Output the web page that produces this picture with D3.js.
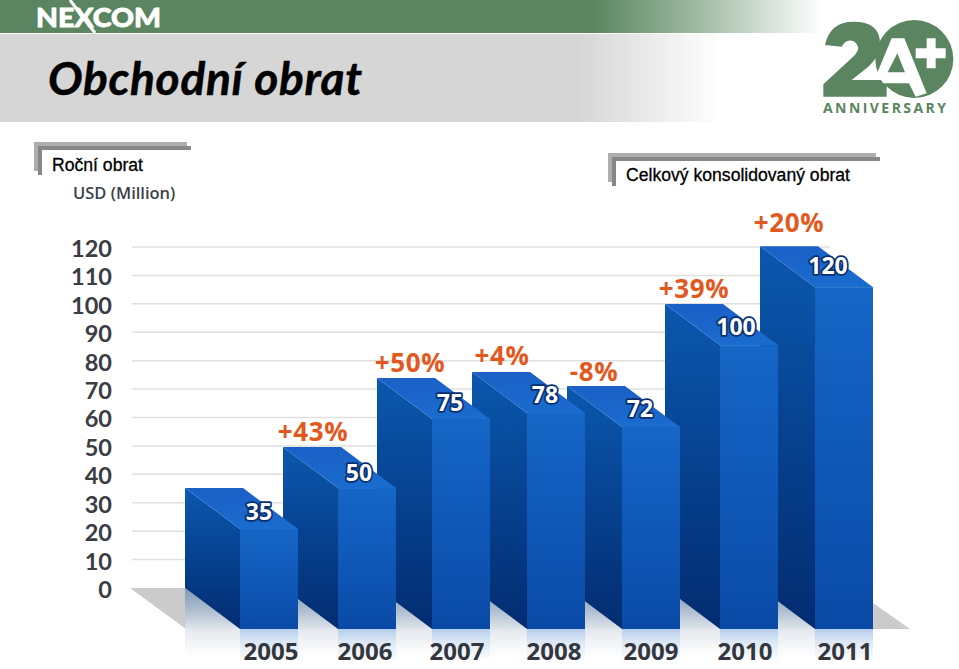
<!DOCTYPE html>
<html><head><meta charset="utf-8">
<script src="https://cdnjs.cloudflare.com/ajax/libs/d3/7.9.0/d3.min.js"></script>
<style>html,body{margin:0;padding:0;background:#fff;overflow:hidden}svg{display:block}</style>
</head><body><svg id="c" width="959" height="669"></svg>
<script>
const years = ["2005","2006","2007","2008","2009","2010","2011"];
const revenue = [35,50,75,78,72,100,120];            // printed on the bars
const drawnHeight = [35.2,49.6,73.9,76,71.1,99.9,120.3]; // bar heights as read against the axis
const growth = [null,"+43%","+50%","+4%","-8%","+39%","+20%"];
const yTicks = [0,10,20,30,40,50,60,70,80,90,100,110,120];

// layout (not data)
const backLeft = [185,283,377,472,567,665,760];
const barW = 58, depthX = 55, depthY = 41;
const growthDx = [0,30,33,30,27,29,29], growthDy = [0,-15,-15,-16,-14,-15,-24];
const valueDx = [19,21,18,18,18,16,13], valueDy = [-17,-15,-16,-18,-18,-18,-21];
const yearDx = [31,27,25,27,29,25,30];

const svg = d3.select("#c");
const defs = svg.append("defs");
function grad(id, stops, horiz){
  const g = defs.append("linearGradient").attr("id",id)
    .attr("x1",0).attr("y1",0).attr("x2",horiz?1:0).attr("y2",horiz?0:1);
  stops.forEach(s=>g.append("stop").attr("offset",s[0]).attr("stop-color",s[1]));
}
grad("gGreen",[[0,"#5a8560"],[0.72,"#5a8560"],[0.86,"#a5bfa8"],[1,"#ffffff"]],true);
grad("gGray",[[0,"#d6d6d6"],[0.8,"#d6d6d6"],[1,"#ffffff"]],true);
grad("gFront",[[0,"#1566c6"],[0.5,"#0f58b8"],[1,"#0a4aa6"]]);
grad("gSide",[[0,"#0b58ae"],[0.55,"#063f8c"],[1,"#032c70"]]);
grad("gTop",[[0,"#1b60c6"],[1,"#1a6ccf"]]);
grad("gRefl",[[0,"#b4cdec"],[0.35,"#d8e5f4"],[1,"#ffffff"]]);
grad("gFloor",[[0,"#7f97b4"],[0.6,"#b4c2d2"],[1,"#dfe5ec"]]);
grad("gFloorR",[[0,"#e4e8ee"],[1,"#ffffff"]]);

// header
svg.append("rect").attr("x",0).attr("y",0).attr("width",822).attr("height",33).attr("fill","url(#gGreen)");
svg.append("rect").attr("x",0).attr("y",34).attr("width",722).attr("height",88).attr("fill","url(#gGray)");

// NEXCOM logo
svg.append("text").attr("x",36).attr("y",27).attr("font-family","Lato").attr("font-weight",900)
  .attr("font-size",27).attr("fill","#fff").attr("stroke","#fff").attr("stroke-width",0.8)
  .attr("textLength",125).attr("lengthAdjust","spacingAndGlyphs").text("NEXCOM");
svg.append("line").attr("x1",70).attr("y1",0).attr("x2",95).attr("y2",33).attr("stroke","#fff").attr("stroke-width",3);
svg.append("text").attr("x",48).attr("y",95).attr("font-family","Lato").attr("font-weight",700)
  .attr("font-style","italic").attr("font-size",46).attr("fill","#000").attr("stroke","#000").attr("stroke-width",0.5)
  .attr("textLength",314).text("Obchodní obrat");

// 20+ anniversary logo
const green = "#5a8560";
const logo = svg.append("g").attr("transform","translate(815,15) scale(0.3333)");
logo.append("circle").attr("cx",298).attr("cy",132).attr("r",117).attr("fill",green);
logo.append("path").attr("fill",green)
  .attr("d","M30 90 Q45 20 115 20 Q195 20 195 85 Q195 125 160 155 L110 195 L215 195 L215 245 L25 245 L25 208 L120 120 Q140 95 118 80 Q95 68 80 95 Z");
logo.append("path").attr("fill","#fff").attr("d","M230 70 L268 70 L335 235 L302 245 L282 205 L205 205 L185 178 Z");
logo.append("path").attr("fill",green).attr("d","M218 172 L247 115 L270 172 Z");
logo.append("path").attr("fill","#fff").attr("d","M302 100 L335 100 L335 70 L362 70 L362 100 L392 100 L392 130 L362 130 L362 160 L335 160 L335 130 L302 130 Z");
svg.append("text").attr("x",823).attr("y",113).attr("font-family","'Open Sans'").attr("font-weight",700)
  .attr("font-size",14).attr("fill",green).attr("textLength",123).text("ANNIVERSARY");

// callouts
function callout(x,y,w,h,label,tx,ty){
  const g = svg.append("g");
  g.append("rect").attr("x",x).attr("y",y).attr("width",w).attr("height",5).attr("fill","#aeaeae");
  g.append("rect").attr("x",x).attr("y",y).attr("width",5).attr("height",h).attr("fill","#aeaeae");
  g.append("rect").attr("x",x+4).attr("y",y+4).attr("width",w).attr("height",4).attr("fill","#878787");
  g.append("rect").attr("x",x+4).attr("y",y+4).attr("width",4).attr("height",h).attr("fill","#878787");
  g.append("text").attr("x",tx).attr("y",ty).attr("font-family","'Liberation Sans'").attr("font-size",17.6)
    .attr("stroke","#000").attr("stroke-width",0.3).attr("fill","#000").text(label);
}
callout(34,142,153,29,"Roční obrat",52,171);
callout(608,153,268,29,"Celkový konsolidovaný obrat",626,181);

svg.append("text").attr("x",73).attr("y",199).attr("font-family","'Open Sans'").attr("font-weight",600)
  .attr("font-size",16.5).attr("fill","#3a3f4a").text("USD (Million)");

// scales
const y = d3.scaleLinear().domain([0,120]).range([588,247]);
const xBack = d3.scaleOrdinal(years, backLeft);

// grid and axis
svg.append("g").selectAll("line").data(yTicks.filter(d=>d>0)).join("line")
  .attr("x1",132).attr("x2",830).attr("y1",d=>y(d)).attr("y2",d=>y(d))
  .attr("stroke-width",1.5).attr("stroke","#e0e0e0");
const axis = d3.axisLeft(y).tickValues(yTicks).tickSize(0).tickPadding(0).tickFormat(d3.format("d"));
const ax = svg.append("g").attr("transform","translate(112,1)").call(axis);
ax.select(".domain").remove();
ax.selectAll("text").attr("font-family","Lato").attr("font-weight",700).attr("font-size",23.5)
  .attr("fill","#3a3d44").attr("dy","0.36em");

// floor
const fy0 = y(0), fy1 = y(0)+depthY;
const last = backLeft.length-1;
svg.append("path").attr("fill","#cbcbcb").attr("d",`M130 ${fy0} L${backLeft[0]+1} ${fy0} L${backLeft[0]+1} ${fy1} Z`);
svg.append("path").attr("fill","#cbcbcb").attr("d",`M${backLeft[last]+depthX+barW} ${fy1-26} L910 ${fy1} L${backLeft[last]+depthX+barW} ${fy1} Z`);

// reflections below the floor line
const rows = years.map((yr,i)=>({yr,v:revenue[i],h:drawnHeight[i],i}));
svg.append("g").selectAll("rect").data(rows).join("rect")
  .attr("x",d=>xBack(d.yr)).attr("y",fy1).attr("width",depthX).attr("height",28).attr("fill","url(#gFloorR)");
svg.append("g").selectAll("rect").data(rows).join("rect")
  .attr("x",d=>xBack(d.yr)+depthX).attr("y",fy1).attr("width",barW).attr("height",32).attr("fill","url(#gRefl)");

// bars, drawn right to left so nearer bars overlap
const bars = svg.append("g").selectAll("g").data(rows.slice().reverse()).join("g");
bars.append("path").attr("fill","url(#gFloor)").attr("d",d=>{
  const b=xBack(d.yr); return `M${b} ${fy0} L${b+depthX} ${fy1} L${b} ${fy1} Z`;});
bars.append("path").attr("fill","url(#gSide)").attr("d",d=>{
  const b=xBack(d.yr), t=y(d.h);
  return `M${b} ${t} L${b+depthX} ${t+depthY} L${b+depthX} ${fy1} L${b} ${fy0} Z`;});
bars.append("rect").attr("fill","url(#gFront)")
  .attr("x",d=>xBack(d.yr)+depthX).attr("y",d=>y(d.h)+depthY)
  .attr("width",barW).attr("height",d=>fy1-y(d.h)-depthY);
bars.append("path").attr("fill","url(#gTop)").attr("d",d=>{
  const b=xBack(d.yr), t=y(d.h);
  return `M${b} ${t} L${b+barW} ${t} L${b+depthX+barW} ${t+depthY} L${b+depthX} ${t+depthY} Z`;});

// value labels
svg.append("g").selectAll("text").data(rows).join("text")
  .attr("x",d=>xBack(d.yr)+depthX+valueDx[d.i]).attr("y",d=>y(d.h)+depthY+valueDy[d.i])
  .attr("dy","0.36em").attr("text-anchor","middle").attr("font-family","'Open Sans'").attr("font-weight",700)
  .attr("font-size",23).attr("fill","#fff").attr("stroke","#0a2f6e").attr("stroke-width",3.5)
  .attr("paint-order","stroke").attr("stroke-linejoin","round").text(d=>d.v);

// growth labels
svg.append("g").selectAll("text").data(rows.filter(d=>growth[d.i])).join("text")
  .attr("x",d=>xBack(d.yr)+growthDx[d.i]).attr("y",d=>y(d.h)+growthDy[d.i])
  .attr("dy","0.36em").attr("text-anchor","middle").attr("font-family","'Open Sans'").attr("font-weight",700)
  .attr("font-size",26).attr("letter-spacing",0.6).attr("fill","#e2591f").text(d=>growth[d.i]);

// year labels
svg.append("g").selectAll("text").data(rows).join("text")
  .attr("x",d=>xBack(d.yr)+depthX+yearDx[d.i]).attr("y",660)
  .attr("text-anchor","middle").attr("font-family","'Open Sans'").attr("font-weight",700)
  .attr("font-size",24).attr("fill","#33363c").text(d=>d.yr);
</script></body></html>
